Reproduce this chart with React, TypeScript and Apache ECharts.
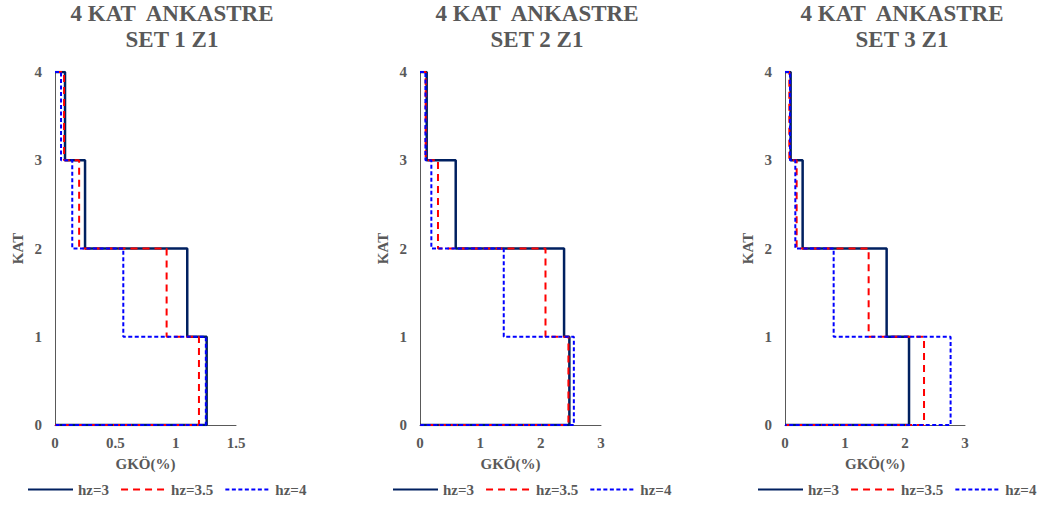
import React, { useEffect, useRef } from "react";
import * as echarts from "echarts";

// Storey drift (GKÖ %) for storeys 1..4
const stories = [1, 2, 3, 4];
const set1Hz3 = [1.257, 1.096, 0.249, 0.083];
const set1Hz35 = [1.193, 0.925, 0.2, 0.075];
const set1Hz4 = [1.25, 0.566, 0.143, 0.05];
const set2Hz3 = [2.476, 2.388, 0.592, 0.111];
const set2Hz35 = [2.46, 2.08, 0.298, 0.094];
const set2Hz4 = [2.55, 1.388, 0.188, 0.09];
const set3Hz3 = [2.067, 1.694, 0.294, 0.094];
const set3Hz35 = [2.317, 1.394, 0.194, 0.072];
const set3Hz4 = [2.76, 0.811, 0.172, 0.083];

const seriesNames = ["hz=3", "hz=3.5", "hz=4"];
const panelTitles = ["4 KAT  ANKASTRE\nSET 1 Z1", "4 KAT  ANKASTRE\nSET 2 Z1", "4 KAT  ANKASTRE\nSET 3 Z1"];
const xMaxes = [1.5, 3, 3];
const xIntervals = [0.5, 1, 1];
const panelData = [
  [set1Hz3, set1Hz35, set1Hz4],
  [set2Hz3, set2Hz35, set2Hz4],
  [set3Hz3, set3Hz35, set3Hz4],
];

const FONT = "serif";
const GRAY = "#595959";

function stepPoints(vals: number[]): number[][] {
  const pts: number[][] = [];
  const top = stories[stories.length - 1];
  pts.push([0, top]);
  for (let i = vals.length - 1; i >= 0; i--) {
    const s = stories[i];
    pts.push([vals[i], s]);
    pts.push([vals[i], s - 1]);
  }
  pts.push([0, 0]);
  return pts;
}

const lineStyles = [
  { color: "#002060", width: 2.5, type: "solid" as any },
  { color: "#FF0000", width: 2, type: [7, 5] as any },
  { color: "#0000FF", width: 2, type: [4, 2.5] as any },
];

export default function App() {
  const ref = useRef<HTMLDivElement>(null);
  useEffect(() => {
    if (!ref.current) return;
    const chart = echarts.init(ref.current, undefined, { renderer: "svg" });
    const lefts = [55, 420, 785];
    const widths = [181, 181, 180];
    const centers = [172, 537, 902];
    const grids: any[] = [];
    const xAxes: any[] = [];
    const yAxes: any[] = [];
    const titles: any[] = [];
    const legends: any[] = [];
    const series: any[] = [];
    for (let p = 0; p < 3; p++) {
      grids.push({ left: lefts[p], width: widths[p], top: 72, height: 353 });
      xAxes.push({
        type: "value",
        gridIndex: p,
        min: 0,
        max: xMaxes[p],
        interval: xIntervals[p],
        name: "GKÖ(%)",
        nameLocation: "middle",
        nameGap: 31,
        nameTextStyle: { fontFamily: FONT, fontWeight: "bold", fontSize: 15, color: GRAY },
        axisLine: { show: true, lineStyle: { color: GRAY, width: 1 } },
        axisTick: { show: false },
        splitLine: { show: false },
        axisLabel: { fontFamily: FONT, fontWeight: "bold", fontSize: 15, color: GRAY, margin: 10 },
      });
      yAxes.push({
        type: "value",
        gridIndex: p,
        min: 0,
        max: 4,
        interval: 1,
        name: "KAT",
        nameLocation: "middle",
        nameRotate: 90,
        nameGap: 30,
        nameTextStyle: { fontFamily: FONT, fontWeight: "bold", fontSize: 15, color: GRAY },
        axisLine: { show: true, lineStyle: { color: GRAY, width: 1 } },
        axisTick: { show: false },
        splitLine: { show: false },
        axisLabel: { fontFamily: FONT, fontWeight: "bold", fontSize: 15, color: GRAY, margin: 13 },
      });
      titles.push({
        text: panelTitles[p],
        left: centers[p],
        top: 0,
        textAlign: "center",
        padding: 0,
        textStyle: { fontFamily: FONT, fontWeight: "bold", fontSize: 23, lineHeight: 26, color: GRAY },
      });
      legends.push({
        data: seriesNames,
        left: centers[p] - 145,
        top: 482,
        itemWidth: 45,
        itemHeight: 14,
        itemGap: 11,
        padding: 0,
        itemStyle: { opacity: 0 },
        textStyle: { fontFamily: FONT, fontWeight: "bold", fontSize: 15, color: GRAY },
      });
      for (let s = 0; s < 3; s++) {
        series.push({
          type: "line",
          name: seriesNames[s],
          xAxisIndex: p,
          yAxisIndex: p,
          data: stepPoints(panelData[p][s]),
          symbol: "none",
          lineStyle: lineStyles[s],
          itemStyle: { color: lineStyles[s].color },
          z: 2 + s,
        });
      }
    }
    chart.setOption({
      animation: false,
      backgroundColor: "#ffffff",
      title: titles,
      grid: grids,
      xAxis: xAxes,
      yAxis: yAxes,
      legend: legends,
      series,
    });
    return () => chart.dispose();
  }, []);
  return <div ref={ref} style={{ width: 1052, height: 506, position: "absolute", left: 0, top: 0 }} />;
}
